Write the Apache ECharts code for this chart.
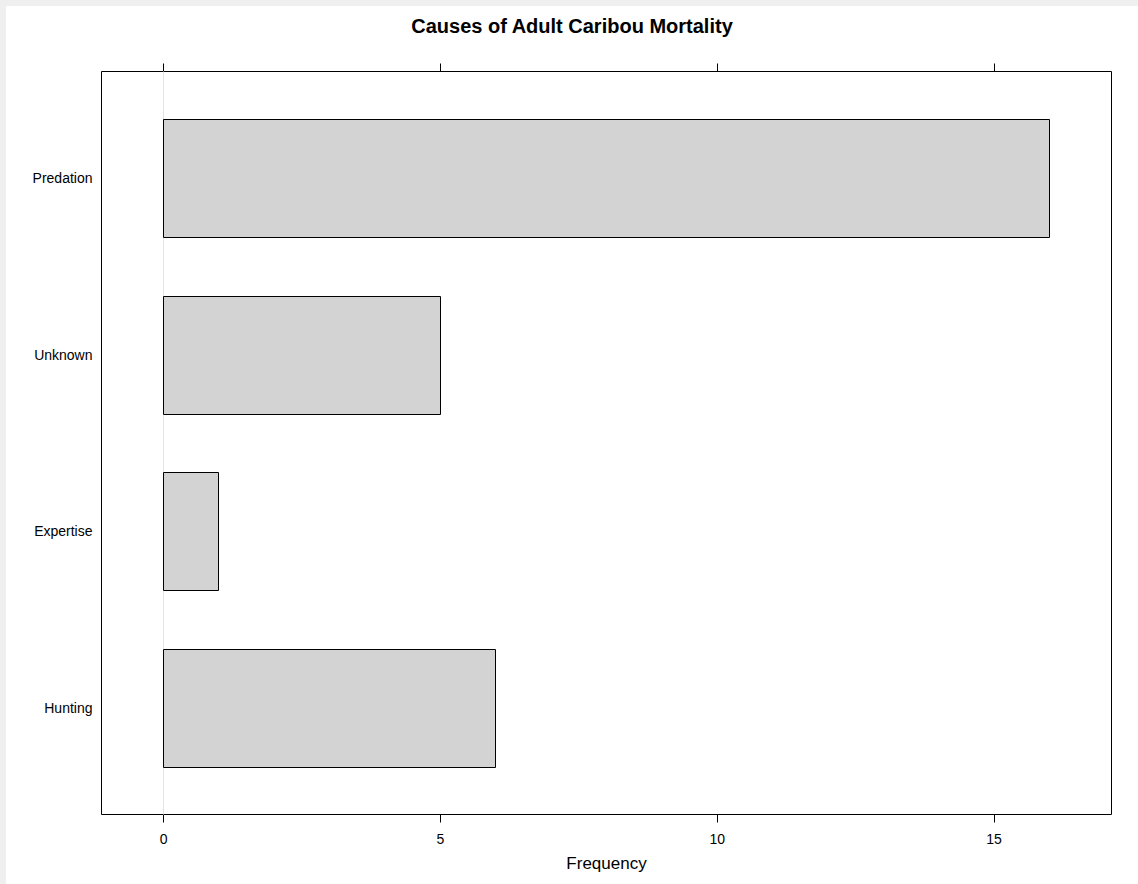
<!DOCTYPE html>
<html>
<head>
<meta charset="utf-8">
<title>Causes of Adult Caribou Mortality</title>
<script src="https://cdn.jsdelivr.net/npm/echarts@6/dist/echarts.min.js"></script>
<style>
  html, body { margin: 0; padding: 0; background: #efefef; }
  #chart { position: absolute; left: 6px; top: 6px; width: 1132px; height: 878px; background: #ffffff; }
</style>
</head>
<body>
<div id="chart"></div>
<script>
// Causes listed bottom-up (first entry sits at the bottom of the panel)
const causes = ['Hunting', 'Expertise', 'Unknown', 'Predation'];
const frequency = [6, 1, 5, 16];
const xTicks = [0, 5, 10, 15];
const referenceAt = [0];

const chart = echarts.init(document.getElementById('chart'), null, { renderer: 'svg' });

const barData = causes.map((c, i) => [frequency[i], i + 1]);

const font = 'Liberation Sans, Arial, Helvetica, sans-serif';

chart.setOption({
  animation: false,
  title: {
    text: 'Causes of Adult Caribou Mortality',
    left: 'center',
    top: 5,
    textStyle: { fontFamily: font, fontSize: 20, fontWeight: 'bold', color: '#000' }
  },
  grid: {
    left: 95.5, top: 65.5, width: 1010, height: 743,
    show: true, borderColor: '#000', borderWidth: 1, backgroundColor: 'transparent'
  },
  xAxis: [{
    type: 'value', position: 'bottom',
    min: -1.12, max: 17.12,
    axisLine: { show: false },
    splitLine: { show: false },
    axisTick: { show: true, inside: false, length: 8, customValues: xTicks, lineStyle: { color: '#000', width: 1 } },
    axisLabel: { customValues: xTicks, margin: 17, fontFamily: font, fontSize: 14, color: '#000' },
    name: 'Frequency', nameLocation: 'middle', nameGap: 40,
    nameTextStyle: { fontFamily: font, fontSize: 17, color: '#000' }
  }, {
    type: 'value', position: 'top',
    min: -1.12, max: 17.12,
    axisLine: { show: false },
    splitLine: { show: false },
    axisTick: { show: true, inside: false, length: 8, customValues: xTicks, lineStyle: { color: '#000', width: 1 } },
    axisLabel: { show: false }
  }],
  yAxis: {
    type: 'value', min: 0.4, max: 4.6,
    axisLine: { show: false },
    axisTick: { show: false },
    splitLine: { show: false },
    axisLabel: {
      customValues: [1, 2, 3, 4],
      formatter: v => causes[Math.round(v) - 1],
      margin: 9, fontFamily: font, fontSize: 14, color: '#000'
    }
  },
  series: [{
    // light reference line at zero, spanning the panel beneath the bars
    type: 'custom', z: 1, silent: true,
    encode: { x: 0 },
    data: referenceAt.map(v => [v]),
    renderItem: function (params, api) {
      const cs = params.coordSys;
      const x = Math.floor(api.coord([api.value(0), 1])[0]) + 0.5;
      return {
        type: 'line',
        shape: { x1: x, y1: cs.y, x2: x, y2: cs.y + cs.height },
        style: { stroke: '#e3e3e3', lineWidth: 1 }
      };
    }
  }, {
    type: 'custom', z: 2,
    encode: { x: 0, y: 1 },
    data: barData,
    renderItem: function (params, api) {
      const v = api.value(0), c = api.value(1);
      const p0 = api.coord([0, c]);
      const p1 = api.coord([v, c]);
      const h = api.size([0, 1])[1] * 2 / 3;
      const x0 = Math.floor(p0[0]) + 0.5;
      const x1 = Math.floor(p1[0]) + 0.5;
      return {
        type: 'rect',
        shape: { x: x0, y: Math.round(p0[1] - h / 2) + 0.5, width: x1 - x0, height: Math.round(h) },
        style: { fill: '#d3d3d3', stroke: '#000', lineWidth: 1 }
      };
    }
  }]
});
</script>
</body>
</html>
